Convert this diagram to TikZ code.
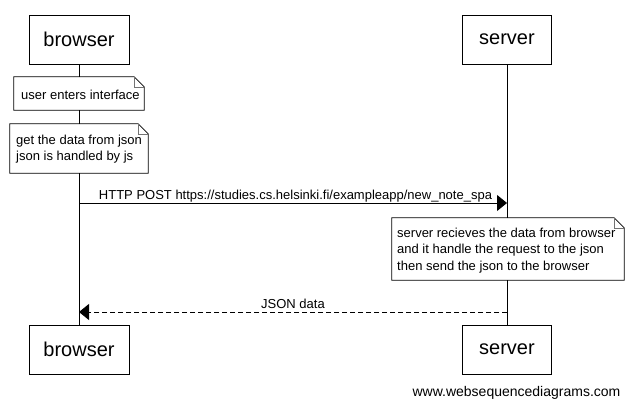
\documentclass[tikz,border=0pt]{standalone}
\usepackage{fontspec}
\setmainfont{Liberation Sans}
\usetikzlibrary{arrows.meta}
\tikzset{
  actor/.style={draw=black, fill=white, line width=0.8pt, minimum height=49pt, inner sep=0pt, font=\fontsize{20}{24}\selectfont},
  notebox/.style={fill=white, inner sep=0pt},
  notetext/.style={inner sep=0pt, align=left, font=\fontsize{13}{16.2}\selectfont},
  noteline/.style={draw=black, line width=0.8pt},
  foldline/.style={draw=black!55, line width=0.6pt},
  lifeline/.style={draw=black, line width=0.8pt},
  msg/.style={draw=black, line width=0.8pt, -{Triangle[length=10pt,width=16pt]}},
  reply/.style={msg, dash pattern=on 5pt off 3pt},
  lbl/.style={font=\fontsize{13}{16}\selectfont, inner sep=0pt, anchor=base},
}
\newcommand{\notefold}[1]{%
  \draw[noteline] (#1.south west) -- (#1.north west) -- ([xshift=-10pt]#1.north east) -- ([yshift=-10pt]#1.north east) -- (#1.south east) -- cycle;
  \draw[foldline] ([xshift=-10pt]#1.north east) -- ([xshift=-10pt,yshift=-10pt]#1.north east) -- ([yshift=-10pt]#1.north east);
}
\begin{document}
\begin{tikzpicture}[x=1pt,y=-1pt]
\useasboundingbox (0,0) rectangle (633,408);
% actors
\node[actor, minimum width=100pt] (bt) at (79,39.5) {browser};
\node[actor, minimum width=89pt] (st) at (507,39.5) {server};
\node[actor, minimum width=100pt] (bb) at (79,349.5) {browser};
\node[actor, minimum width=89pt] (sb) at (507,349.5) {server};
% lifelines
\draw[lifeline] (bt.south) -- (bb.north);
\draw[lifeline] (st.south) -- (sb.north);
% notes
\node[notebox, minimum width=130pt, minimum height=33pt] (n1) at (79,93.5) {};
\notefold{n1}
\node[notetext, anchor=base west] (t1) at (21,99) {user enters interface};
\node[notebox, minimum width=138pt, minimum height=49pt] (n2) at (79,148.5) {};
\notefold{n2}
\node[notetext, anchor=base west] (t2) at (16,144) {get the data from json};
\node[notetext, anchor=base west] (t2b) at (16,160) {json is handled by js};
\node[notebox, minimum width=232pt, minimum height=62pt] (n3) at (508,249) {};
\notefold{n3}
\node[notetext, anchor=base west] (t3) at (397,237) {server recieves the data from browser};
\node[notetext, anchor=base west] (t3b) at (397,253.5) {and it handle the request to the json};
\node[notetext, anchor=base west] (t3c) at (397,270) {then send the json to the browser};
% messages
\coordinate (m1b) at (79,203);
\coordinate (m1s) at (507,203);
\draw[msg] (m1b) -- (m1s);
\node[lbl] (l1) at (295.5,199) {HTTP POST https://studies.cs.helsinki.fi/exampleapp/new\_note\_spa};
\coordinate (m2s) at (507,312);
\coordinate (m2b) at (79,312);
\draw[reply] (m2s) -- (m2b);
\node[lbl] (l2) at (293,308) {JSON data};
% watermark
\node[font=\fontsize{14}{16}\selectfont, inner sep=0pt, anchor=base] (wm) at (516.5,396) {www.websequencediagrams.com};
\end{tikzpicture}
\end{document}
